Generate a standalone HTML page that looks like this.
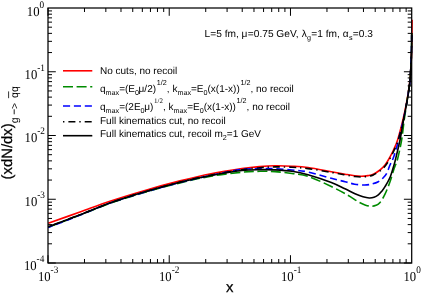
<!DOCTYPE html>
<html><head><meta charset="utf-8"><title>plot</title>
<style>
html,body{margin:0;padding:0;background:#fff;}
body{width:421px;height:293px;overflow:hidden;}
svg{display:block;will-change:transform;}
text{text-rendering:geometricPrecision;fill:#000;font-family:"Liberation Sans",sans-serif;}
.tk{font-family:"Liberation Serif",serif;font-size:13.7px;}
.ts{font-size:10px;}
.lg{font-size:10px;}
.s{font-size:7.2px;}
.ss{font-size:7px;font-family:"Liberation Serif",serif;}
.ax{font-size:14.9px;stroke:#000;stroke-width:0.25px;}
.as{font-size:10.5px;}
</style></head><body>
<svg width="421" height="293" viewBox="0 0 421 293">
<g fill="none" stroke-width="1.6" stroke-linejoin="round">
<path d="M48.20,223.30 C53.50,221.42 69.70,215.68 80.00,212.00 C90.30,208.32 99.17,204.80 110.00,201.20 C120.83,197.60 133.33,193.78 145.00,190.40 C156.67,187.02 169.00,183.68 180.00,180.90 C191.00,178.12 200.67,175.75 211.00,173.70 C221.33,171.65 233.83,169.78 242.00,168.60 C250.17,167.42 254.50,167.07 260.00,166.60 C265.50,166.13 269.67,165.87 275.00,165.80 C280.33,165.73 286.50,165.92 292.00,166.20 C297.50,166.48 301.45,166.58 308.00,167.50 C314.55,168.42 325.13,170.58 331.30,171.70 C337.47,172.82 341.10,173.52 345.00,174.20 C348.90,174.88 351.95,175.45 354.70,175.80 C357.45,176.15 359.28,176.33 361.50,176.30 C363.72,176.27 366.03,175.95 368.00,175.60 C369.97,175.25 371.30,175.13 373.30,174.20 C375.30,173.27 378.05,171.53 380.00,170.00 C381.95,168.47 383.52,166.83 385.00,165.00 C386.48,163.17 387.48,161.50 388.90,159.00 C390.32,156.50 392.05,153.17 393.50,150.00 C394.95,146.83 396.03,145.00 397.60,140.00 C399.17,135.00 401.38,126.33 402.90,120.00 C404.42,113.67 405.58,108.17 406.70,102.00 C407.82,95.83 408.95,88.00 409.60,83.00 C410.25,78.00 410.32,75.83 410.60,72.00 C410.88,68.17 411.10,64.50 411.30,60.00 C411.50,55.50 411.68,50.00 411.80,45.00 C411.92,40.00 411.95,34.22 412.00,30.00 C412.05,25.78 412.08,21.42 412.10,19.70" stroke="#f00"/>
<path d="M48.20,227.30 C53.50,225.27 69.70,219.10 80.00,215.10 C90.30,211.10 99.17,207.10 110.00,203.30 C120.83,199.50 133.33,195.70 145.00,192.30 C156.67,188.90 169.00,185.58 180.00,182.90 C191.00,180.22 200.67,177.98 211.00,176.20 C221.33,174.42 233.83,173.02 242.00,172.20 C250.17,171.38 254.50,171.40 260.00,171.30 C265.50,171.20 269.67,171.23 275.00,171.60 C280.33,171.97 286.50,172.72 292.00,173.50 C297.50,174.28 301.45,174.13 308.00,176.30 C314.55,178.47 324.72,183.38 331.30,186.50 C337.88,189.62 343.00,192.45 347.50,195.00 C352.00,197.55 355.38,200.15 358.30,201.80 C361.22,203.45 362.92,204.15 365.00,204.90 C367.08,205.65 368.97,206.23 370.80,206.30 C372.63,206.37 374.47,205.93 376.00,205.30 C377.53,204.67 378.50,204.35 380.00,202.50 C381.50,200.65 383.33,197.67 385.00,194.20 C386.67,190.73 388.47,186.02 390.00,181.70 C391.53,177.38 392.93,172.08 394.20,168.30 C395.47,164.52 396.37,163.72 397.60,159.00 C398.83,154.28 400.50,146.50 401.60,140.00 C402.70,133.50 403.32,126.33 404.20,120.00 C405.08,113.67 405.97,108.17 406.90,102.00 C407.83,95.83 409.18,88.00 409.80,83.00 C410.42,78.00 410.37,75.83 410.60,72.00 C410.83,68.17 411.03,64.50 411.20,60.00 C411.37,55.50 411.52,49.50 411.60,45.00 C411.68,40.50 411.68,35.00 411.70,33.00" stroke="#008b00" stroke-dasharray="10,3.6"/>
<path d="M48.20,227.50 C53.50,225.43 69.70,219.17 80.00,215.10 C90.30,211.03 99.17,206.95 110.00,203.10 C120.83,199.25 133.33,195.43 145.00,192.00 C156.67,188.57 169.00,185.28 180.00,182.50 C191.00,179.72 200.67,177.48 211.00,175.30 C221.33,173.12 233.83,170.50 242.00,169.40 C250.17,168.30 254.50,168.82 260.00,168.70 C265.50,168.58 269.67,168.48 275.00,168.70 C280.33,168.92 286.50,169.45 292.00,170.00 C297.50,170.55 301.45,170.62 308.00,172.00 C314.55,173.38 325.13,176.68 331.30,178.30 C337.47,179.92 341.10,180.72 345.00,181.70 C348.90,182.68 351.42,183.65 354.70,184.20 C357.98,184.75 361.82,185.03 364.70,185.00 C367.58,184.97 369.73,184.55 372.00,184.00 C374.27,183.45 376.47,182.70 378.30,181.70 C380.13,180.70 381.60,179.40 383.00,178.00 C384.40,176.60 385.53,175.47 386.70,173.30 C387.87,171.13 388.97,167.38 390.00,165.00 C391.03,162.62 391.82,161.83 392.90,159.00 C393.98,156.17 395.28,152.33 396.50,148.00 C397.72,143.67 399.07,137.67 400.20,133.00 C401.33,128.33 402.18,125.17 403.30,120.00 C404.42,114.83 405.82,108.17 406.90,102.00 C407.98,95.83 409.18,88.00 409.80,83.00 C410.42,78.00 410.37,75.83 410.60,72.00 C410.83,68.17 411.03,64.50 411.20,60.00 C411.37,55.50 411.52,49.50 411.60,45.00 C411.68,40.50 411.68,35.00 411.70,33.00" stroke="#00f" stroke-dasharray="7.1,3.8" stroke-dashoffset="2.5"/>
<path d="M48.20,226.80 C53.50,224.78 69.70,218.68 80.00,214.70 C90.30,210.72 99.17,206.73 110.00,202.90 C120.83,199.07 133.33,195.16 145.00,191.70 C156.67,188.24 169.00,184.91 180.00,182.14 C191.00,179.37 200.67,177.15 211.00,175.10 C221.33,173.05 233.83,171.06 242.00,169.83 C250.17,168.59 254.50,168.19 260.00,167.70 C265.50,167.21 269.67,166.97 275.00,166.90 C280.33,166.83 286.50,167.02 292.00,167.30 C297.50,167.58 301.45,167.75 308.00,168.60 C314.55,169.45 325.13,171.35 331.30,172.40 C337.47,173.45 341.10,174.22 345.00,174.90 C348.90,175.58 351.95,176.15 354.70,176.50 C357.45,176.85 359.28,177.03 361.50,177.00 C363.72,176.97 366.03,176.65 368.00,176.30 C369.97,175.95 371.23,175.83 373.30,174.90 C375.37,173.97 378.38,172.23 380.40,170.70 C382.42,169.17 383.92,167.53 385.40,165.70 C386.88,163.87 387.88,162.20 389.30,159.70 C390.72,157.20 392.45,153.87 393.90,150.70 C395.35,147.53 396.43,145.70 398.00,140.70 C399.57,135.70 401.82,127.15 403.30,120.70 C404.78,114.25 405.82,108.28 406.90,102.00 C407.98,95.72 409.18,88.00 409.80,83.00 C410.42,78.00 410.37,75.83 410.60,72.00 C410.83,68.17 411.03,64.50 411.20,60.00 C411.37,55.50 411.52,49.50 411.60,45.00 C411.68,40.50 411.68,35.00 411.70,33.00" stroke="#000" stroke-dasharray="1.4,4,7,3.9"/>
<path d="M48.20,226.80 C53.50,224.78 69.70,218.68 80.00,214.70 C90.30,210.72 99.17,206.73 110.00,202.90 C120.83,199.07 133.33,195.15 145.00,191.70 C156.67,188.25 169.00,184.90 180.00,182.20 C191.00,179.50 200.67,177.45 211.00,175.50 C221.33,173.55 233.83,171.47 242.00,170.50 C250.17,169.53 254.50,169.80 260.00,169.70 C265.50,169.60 269.67,169.63 275.00,169.90 C280.33,170.17 286.50,170.50 292.00,171.30 C297.50,172.10 301.45,172.83 308.00,174.70 C314.55,176.57 325.13,180.15 331.30,182.50 C337.47,184.85 341.05,186.93 345.00,188.80 C348.95,190.67 352.00,192.37 355.00,193.70 C358.00,195.03 360.63,196.08 363.00,196.80 C365.37,197.52 367.37,197.92 369.20,198.00 C371.03,198.08 372.48,197.83 374.00,197.30 C375.52,196.77 377.02,195.80 378.30,194.80 C379.58,193.80 380.58,192.65 381.70,191.30 C382.82,189.95 383.57,189.13 385.00,186.70 C386.43,184.27 388.80,180.32 390.30,176.70 C391.80,173.08 393.12,167.95 394.00,165.00 C394.88,162.05 394.60,163.17 395.60,159.00 C396.60,154.83 398.68,146.50 400.00,140.00 C401.32,133.50 402.35,126.33 403.50,120.00 C404.65,113.67 405.85,108.17 406.90,102.00 C407.95,95.83 409.18,88.00 409.80,83.00 C410.42,78.00 410.37,75.83 410.60,72.00 C410.83,68.17 411.03,64.50 411.20,60.00 C411.37,55.50 411.52,49.50 411.60,45.00 C411.68,40.50 411.68,35.00 411.70,33.00" stroke="#000"/>
</g>
<rect x="48.00" y="8.00" width="363.70" height="255.00" fill="none" stroke="#000" stroke-width="1.25"/>
<path d="M48.00,263.00v-7.80 M48.00,8.00v7.80 M84.49,263.00v-4.00 M84.49,8.00v4.00 M105.84,263.00v-4.00 M105.84,8.00v4.00 M120.99,263.00v-4.00 M120.99,8.00v4.00 M132.74,263.00v-4.00 M132.74,8.00v4.00 M142.34,263.00v-4.00 M142.34,8.00v4.00 M150.45,263.00v-4.00 M150.45,8.00v4.00 M157.48,263.00v-4.00 M157.48,8.00v4.00 M163.69,263.00v-4.00 M163.69,8.00v4.00 M169.23,263.00v-7.80 M169.23,8.00v7.80 M205.73,263.00v-4.00 M205.73,8.00v4.00 M227.08,263.00v-4.00 M227.08,8.00v4.00 M242.22,263.00v-4.00 M242.22,8.00v4.00 M253.97,263.00v-4.00 M253.97,8.00v4.00 M263.57,263.00v-4.00 M263.57,8.00v4.00 M271.69,263.00v-4.00 M271.69,8.00v4.00 M278.72,263.00v-4.00 M278.72,8.00v4.00 M284.92,263.00v-4.00 M284.92,8.00v4.00 M290.47,263.00v-7.80 M290.47,8.00v7.80 M326.96,263.00v-4.00 M326.96,8.00v4.00 M348.31,263.00v-4.00 M348.31,8.00v4.00 M363.46,263.00v-4.00 M363.46,8.00v4.00 M375.21,263.00v-4.00 M375.21,8.00v4.00 M384.80,263.00v-4.00 M384.80,8.00v4.00 M392.92,263.00v-4.00 M392.92,8.00v4.00 M399.95,263.00v-4.00 M399.95,8.00v4.00 M406.15,263.00v-4.00 M406.15,8.00v4.00 M48.00,263.00h7.80 M411.70,263.00h-7.80 M48.00,243.81h4.00 M411.70,243.81h-4.00 M48.00,232.58h4.00 M411.70,232.58h-4.00 M48.00,224.62h4.00 M411.70,224.62h-4.00 M48.00,218.44h4.00 M411.70,218.44h-4.00 M48.00,213.39h4.00 M411.70,213.39h-4.00 M48.00,209.12h4.00 M411.70,209.12h-4.00 M48.00,205.43h4.00 M411.70,205.43h-4.00 M48.00,202.17h4.00 M411.70,202.17h-4.00 M48.00,199.25h7.80 M411.70,199.25h-7.80 M48.00,180.06h4.00 M411.70,180.06h-4.00 M48.00,168.83h4.00 M411.70,168.83h-4.00 M48.00,160.87h4.00 M411.70,160.87h-4.00 M48.00,154.69h4.00 M411.70,154.69h-4.00 M48.00,149.64h4.00 M411.70,149.64h-4.00 M48.00,145.37h4.00 M411.70,145.37h-4.00 M48.00,141.68h4.00 M411.70,141.68h-4.00 M48.00,138.42h4.00 M411.70,138.42h-4.00 M48.00,135.50h7.80 M411.70,135.50h-7.80 M48.00,116.31h4.00 M411.70,116.31h-4.00 M48.00,105.08h4.00 M411.70,105.08h-4.00 M48.00,97.12h4.00 M411.70,97.12h-4.00 M48.00,90.94h4.00 M411.70,90.94h-4.00 M48.00,85.89h4.00 M411.70,85.89h-4.00 M48.00,81.62h4.00 M411.70,81.62h-4.00 M48.00,77.93h4.00 M411.70,77.93h-4.00 M48.00,74.67h4.00 M411.70,74.67h-4.00 M48.00,71.75h7.80 M411.70,71.75h-7.80 M48.00,52.56h4.00 M411.70,52.56h-4.00 M48.00,41.33h4.00 M411.70,41.33h-4.00 M48.00,33.37h4.00 M411.70,33.37h-4.00 M48.00,27.19h4.00 M411.70,27.19h-4.00 M48.00,22.14h4.00 M411.70,22.14h-4.00 M48.00,17.87h4.00 M411.70,17.87h-4.00 M48.00,14.18h4.00 M411.70,14.18h-4.00 M48.00,10.92h4.00 M411.70,10.92h-4.00" stroke="#000" stroke-width="1.0" fill="none"/>
<g fill="none" stroke-width="1.6">
<path d="M63,70.8H92.3" stroke="#f00"/>
<path d="M63,86.8H92.3" stroke="#008b00" stroke-dasharray="10,3.6"/>
<path d="M63,105.95H92.3" stroke="#00f" stroke-dasharray="7.1,3.8"/>
<path d="M63,121.8H92.3" stroke="#000" stroke-dasharray="1.4,4,7,3.9"/>
<path d="M63,135.7H92.3" stroke="#000"/>
</g>
<text transform="translate(26.80,15.85) scale(0.925,1)" class="tk">10<tspan dy="-8" class="ts">0</tspan></text>
<text transform="translate(24.60,78.70) scale(0.925,1)" class="tk">10<tspan dy="-8" class="ts">-1</tspan></text>
<text transform="translate(24.60,142.40) scale(0.925,1)" class="tk">10<tspan dy="-8" class="ts">-2</tspan></text>
<text transform="translate(24.60,206.10) scale(0.925,1)" class="tk">10<tspan dy="-8" class="ts">-3</tspan></text>
<text transform="translate(23.90,269.90) scale(0.925,1)" class="tk">10<tspan dy="-8" class="ts">-4</tspan></text>
<text transform="translate(37.90,280.70) scale(0.925,1)" class="tk">10<tspan dy="-8" class="ts">-3</tspan></text>
<text transform="translate(159.00,280.70) scale(0.925,1)" class="tk">10<tspan dy="-8" class="ts">-2</tspan></text>
<text transform="translate(281.00,280.70) scale(0.925,1)" class="tk">10<tspan dy="-8" class="ts">-1</tspan></text>
<text transform="translate(403.50,280.70) scale(0.925,1)" class="tk">10<tspan dy="-8" class="ts">0</tspan></text>
<text x="204.6" y="37" class="lg" style="font-size:10.17px">L=5 fm, &#956;<tspan dx="0.4">=0.75 GeV, </tspan><tspan dx="0.3">&#955;</tspan><tspan class="s" dy="3.3" dx="0.3">g</tspan><tspan dy="-3.3" dx="0.3">=1 fm, &#945;</tspan><tspan class="s" dy="3.3" dx="0.4">s</tspan><tspan dy="-3.3" dx="0.3">=0.3</tspan></text>
<text x="100.00" y="73.70" class="lg">No cuts, no recoil</text>
<text x="100.00" y="91.60" class="lg">q<tspan class="s" dy="3.3">max</tspan><tspan dy="-3.3">=(E</tspan><tspan class="s" dy="3.3">0</tspan><tspan dy="-3.3" dx="-0.4">&#956;/2)</tspan><tspan class="s" dy="-7" dx="0.8">1/2</tspan><tspan dy="7">, k</tspan><tspan class="s" dy="3.3">max</tspan><tspan dy="-3.3">=E</tspan><tspan class="s" dy="3.3">0</tspan><tspan dy="-3.3">(x(1-x))</tspan><tspan class="s" dy="-7" dx="0.7">1/2</tspan><tspan dy="7">, no recoil</tspan></text>
<text x="100.00" y="110.00" class="lg">q<tspan class="s" dy="3.3">max</tspan><tspan dy="-3.3">=(2E</tspan><tspan class="s" dy="3.3">0</tspan><tspan dy="-3.3" dx="-0.4">&#956;)</tspan><tspan class="ss" dy="-7" dx="0.8">1/2</tspan><tspan dy="7">, k</tspan><tspan class="s" dy="3.3">max</tspan><tspan dy="-3.3">=E</tspan><tspan class="s" dy="3.3">0</tspan><tspan dy="-3.3">(x(1-x))</tspan><tspan class="s" dy="-7" dx="0.7">1/2</tspan><tspan dy="7">, no recoil</tspan></text>
<text x="100.00" y="124.00" class="lg">Full kinematics cut, no recoil</text>
<text x="100.00" y="137.00" class="lg">Full kinematics cut, recoil m<tspan class="s" dy="3.3">2</tspan><tspan dy="-3.3">=1 GeV</tspan></text>
<text x="226" y="292.2" class="ax">x</text>
<g transform="translate(12.2,179.5) rotate(-90)"><text x="0" y="0" class="ax">(xdN/dx)</text><text x="56.3" y="5.3" class="as">g</text><path d="M65.2,2.0h5" stroke="#000" stroke-width="0.9"/><text x="70.5" y="5.8" class="as">&gt;</text><text x="81.6" y="5.3" class="as">qq</text><path d="M81.3,-3.6h6.8" stroke="#000" stroke-width="0.8"/></g>
</svg>
</body></html>
